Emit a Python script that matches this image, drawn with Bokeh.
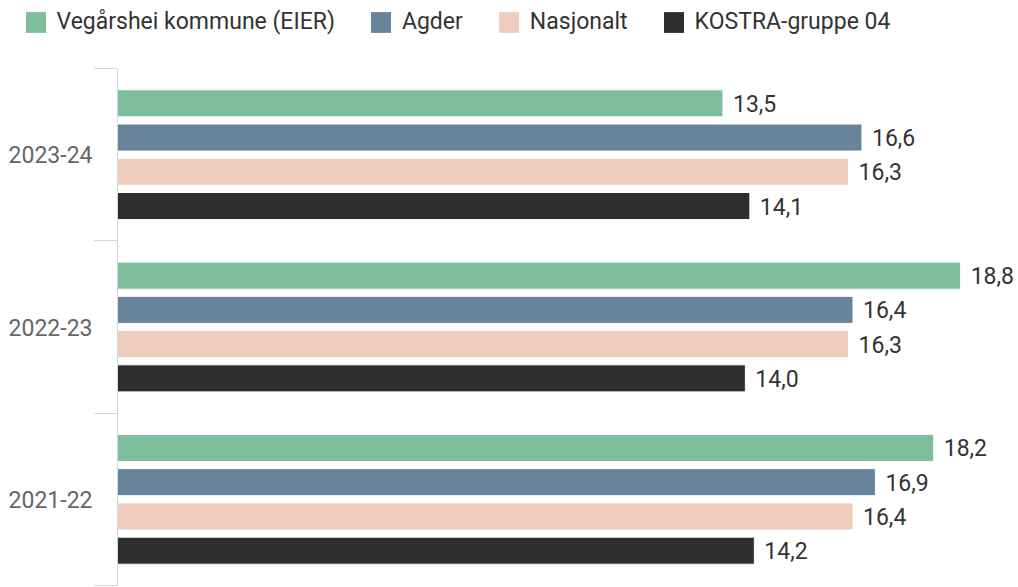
from bokeh.plotting import figure
from bokeh.layouts import column
from bokeh.models import (ColumnDataSource, Range1d, LinearAxis, FixedTicker,
                          Legend, LegendItem)
from bokeh.transform import dodge
from bokeh.core.properties import value
from bokeh.embed import file_html
from bokeh.resources import INLINE

# ---- data ----
periods = ["2021-22", "2022-23", "2023-24"]          # bottom -> top
series_names = ["Vegårshei kommune (EIER)", "Agder", "Nasjonalt", "KOSTRA-gruppe 04"]
vegarshei = [18.2, 18.8, 13.5]
agder = [16.9, 16.4, 16.6]
nasjonalt = [16.4, 16.3, 16.3]
kostra = [14.2, 14.0, 14.1]
colors = ["#7DBE9C", "#68849C", "#EECDBD", "#2E2E2E"]

series_values = [vegarshei, agder, nasjonalt, kostra]
offsets = [0.298, 0.0995, -0.0995, -0.298]
bar_h = 0.157

FONT = "Roboto"
n = len(periods)
centers = [i + 0.5 for i in range(n)]   # category band centers

# ---------------- main chart ----------------
p = figure(width=1018, height=519, output_backend="svg", toolbar_location=None,
           y_range=Range1d(0, n), x_range=Range1d(0, 20.09),
           x_axis_location=None, y_axis_location=None,
           min_border_left=117, min_border_right=0, min_border_top=0,
           min_border_bottom=2)
p.outline_line_color = None
p.xgrid.visible = False
p.ygrid.visible = False
p.background_fill_color = "white"
p.border_fill_color = "white"

for name, vals, col, off in zip(series_names, series_values, colors, offsets):
    src = ColumnDataSource(dict(
        pos=centers, v=vals,
        lab=[f"{x:.1f}".replace(".", ",") for x in vals]))
    p.hbar(y=dodge("pos", off), right="v", left=0,
           height=bar_h, source=src, fill_color=col, line_color="white",
           line_width=1)
    p.text(x="v", y=dodge("pos", off), text="lab",
           source=src, x_offset=10, text_baseline="middle", text_align="left",
           text_font=value(FONT), text_font_size="23px", text_color="#333333")

# inner axis: ticks at category boundaries
inner = LinearAxis(ticker=FixedTicker(ticks=list(range(n + 1))))
inner.axis_line_color = "#CCD6EB"
inner.major_tick_line_color = "#CCD6EB"
inner.major_tick_out = 23
inner.major_tick_in = 0
inner.minor_tick_line_color = None
inner.major_label_text_font_size = "0px"
inner.major_label_standoff = 0
inner.major_label_overrides = {i: "" for i in range(n + 1)}
p.add_layout(inner, "left")

# outer axis: category labels at band centers
outer = LinearAxis(ticker=FixedTicker(ticks=centers))
outer.axis_line_color = None
outer.major_tick_line_color = None
outer.minor_tick_line_color = None
outer.major_label_standoff = -4
outer.major_label_overrides = {c: lab for c, lab in zip(centers, periods)}
outer.major_label_text_font = FONT
outer.major_label_text_font_size = "23px"
outer.major_label_text_color = "#666666"
p.add_layout(outer, "left")

# ---------------- legend strip ----------------
lf = figure(width=1018, height=68, output_backend="svg", toolbar_location=None,
            x_range=Range1d(0, 1), y_range=Range1d(10, 11),
            x_axis_location=None, y_axis_location=None,
            min_border_left=0, min_border_right=0, min_border_top=0,
            min_border_bottom=0)
lf.outline_line_color = None
lf.xgrid.visible = False
lf.ygrid.visible = False
lf.background_fill_color = "white"
lf.border_fill_color = "white"

items = []
for name, vals, col in zip(series_names, series_values, colors):
    # zero-height bars outside the strip's range: only supply the legend swatch
    r = lf.hbar(y=centers, right=vals, left=0, height=0, fill_color=col,
                line_color=col, line_alpha=0)
    items.append(LegendItem(label=name, renderers=[r]))

legend_x = 22.5
try:
    lf.frame_align = False
    p.frame_align = False
except AttributeError:
    legend_x = -95

lg = Legend(items=items, orientation="horizontal", location=(legend_x, 32.6),
            border_line_color=None, background_fill_alpha=0, padding=0,
            margin=0, spacing=33, label_standoff=9, glyph_width=25,
            glyph_height=26, label_text_font=FONT, label_text_font_size="23px",
            label_text_color="#333333")
lf.add_layout(lg, "center")

layout = column(lf, p, spacing=0)
open("out.html", "w").write(file_html(layout, INLINE))
